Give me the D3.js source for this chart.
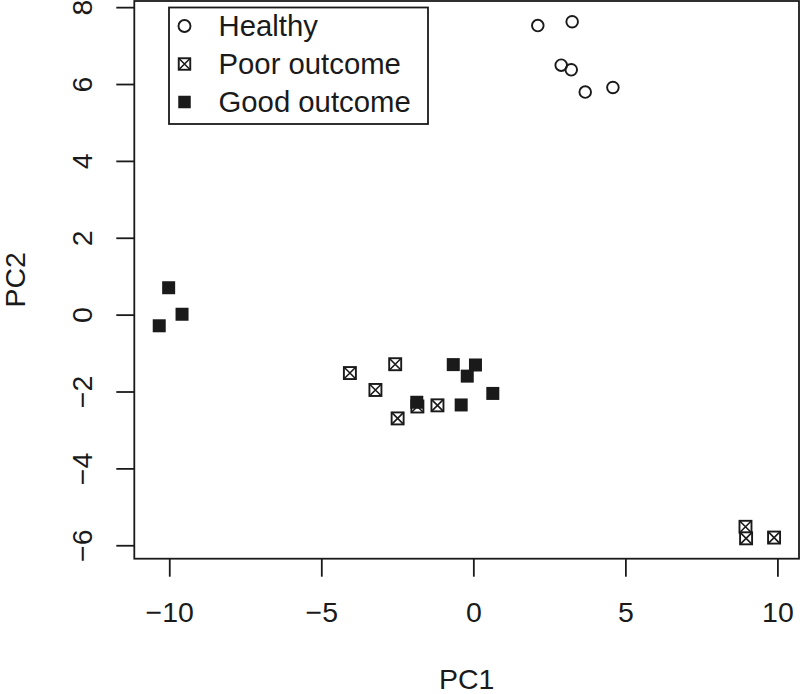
<!DOCTYPE html>
<html><head><meta charset="utf-8">
<script src="https://cdn.jsdelivr.net/npm/d3@7"></script>
<style>body{margin:0;background:#fff}svg{display:block}</style>
</head><body>
<svg id="c" width="800" height="694"></svg>
<script>
const healthyX = [2.12, 3.25, 2.89, 3.22, 3.68, 4.59];
const healthyY = [7.52, 7.62, 6.49, 6.37, 5.79, 5.91];
const poorX = [-4.06, -2.57, -3.22, -2.49, -1.84, -1.18, 8.95, 8.97, 9.89];
const poorY = [-1.52, -1.29, -1.96, -2.70, -2.39, -2.36, -5.52, -5.82, -5.80];
const goodX = [-10.02, -9.58, -10.33, -0.66, 0.07, -0.20, 0.64, -0.40, -1.86];
const goodY = [0.70, 0.01, -0.29, -1.30, -1.31, -1.60, -2.05, -2.35, -2.28];
const xTicks = [-10, -5, 0, 5, 10];
const yTicks = [-6, -4, -2, 0, 2, 4, 6, 8];
const legendLabels = ["Healthy", "Poor outcome", "Good outcome"];
const xTitle = "PC1", yTitle = "PC2";

const svg = d3.select("#c");
const ink = "#1a1a1a";
const font = "'Liberation Sans', Arial, Helvetica, sans-serif";
const L = 134.3, R = 799, T = 1, B = 558.7;
const x = d3.scaleLinear().domain([-11.15, 10.71]).range([L, R]);
const y = d3.scaleLinear().domain([-6.35, 8.16]).range([B, T]);

// axes
const xAxis = d3.axisBottom(x).tickValues(xTicks).tickSize(18).tickPadding(25)
  .tickFormat(d => d < 0 ? "\u2212" + Math.abs(d) : d);
const gx = svg.append("g").attr("transform", `translate(0,${B})`).call(xAxis);
gx.select(".domain").remove();
gx.selectAll("line").attr("stroke", ink).attr("stroke-width", 1.8);
gx.selectAll("text").attr("fill", ink).style("font-family", font).style("font-size", "28.5px");

const yAxis = d3.axisLeft(y).tickValues(yTicks).tickSize(18)
  .tickFormat(d => d < 0 ? "\u2212" + Math.abs(d) : d);
const gy = svg.append("g").attr("transform", `translate(${L},0)`).call(yAxis);
gy.select(".domain").remove();
gy.selectAll("line").attr("stroke", ink).attr("stroke-width", 1.8);
gy.selectAll("text").attr("fill", ink).style("font-family", font).style("font-size", "28.5px")
  .attr("x", null).attr("dy", null).attr("text-anchor", "middle")
  .attr("transform", "translate(-42,0) rotate(-90)");

// box
svg.append("rect").attr("x", L).attr("y", T).attr("width", R - L).attr("height", B - T)
  .attr("fill", "none").attr("stroke", ink).attr("stroke-width", 1.8);

// titles
svg.append("text").attr("x", (L + R) / 2).attr("y", 688.5).attr("text-anchor", "middle")
  .attr("fill", ink).style("font-family", font).style("font-size", "28.5px").text(xTitle);
svg.append("text").attr("transform", `translate(25,${(T + B) / 2}) rotate(-90)`).attr("text-anchor", "middle")
  .attr("fill", ink).style("font-family", font).style("font-size", "28.5px").text(yTitle);

// symbols
function circle(g, cx, cy, r) {
  g.append("circle").attr("cx", cx).attr("cy", cy).attr("r", r)
    .attr("fill", "none").attr("stroke", ink).attr("stroke-width", 1.9);
}
function xbox(g, cx, cy, s) {
  const h = s / 2;
  g.append("rect").attr("x", cx - h).attr("y", cy - h).attr("width", s).attr("height", s)
    .attr("fill", "#fff").attr("stroke", ink).attr("stroke-width", 1.9);
  g.append("path").attr("d", `M${cx - h},${cy - h}L${cx + h},${cy + h}M${cx + h},${cy - h}L${cx - h},${cy + h}`)
    .attr("stroke", ink).attr("stroke-width", 1.6);
}
function fbox(g, cx, cy, s) {
  g.append("rect").attr("x", cx - s / 2).attr("y", cy - s / 2).attr("width", s).attr("height", s)
    .attr("fill", ink);
}

const pts = svg.append("g");
healthyX.forEach((v, i) => circle(pts, x(v), y(healthyY[i]), 5.8));
poorX.forEach((v, i) => xbox(pts, x(v), y(poorY[i]), 12));
goodX.forEach((v, i) => fbox(pts, x(v), y(goodY[i]), 13));

// legend
const lg = svg.append("g");
lg.append("rect").attr("x", 169).attr("y", 7.5).attr("width", 259).attr("height", 116.5)
  .attr("fill", "#fff").attr("stroke", ink).attr("stroke-width", 1.8);
const rows = [26, 64, 102];
circle(lg, 184.5, rows[0], 6);
xbox(lg, 184.5, rows[1], 11.5);
fbox(lg, 184.5, rows[2], 12.5);
legendLabels.forEach((t, i) => {
  lg.append("text").attr("x", 218.5).attr("y", rows[i] + 9.5).attr("fill", ink)
    .style("font-family", font).style("font-size", "29.3px").text(t);
});
</script>
</body></html>
